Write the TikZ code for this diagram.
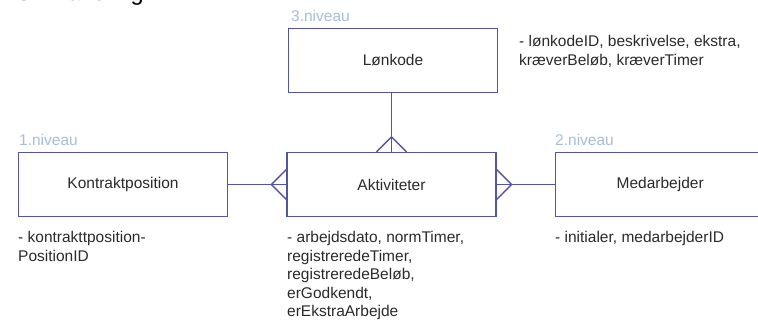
\documentclass[tikz,border=0pt]{standalone}
\usepackage{fontspec}
\setmainfont{Liberation Sans}
\usetikzlibrary{positioning,calc}
\definecolor{erBlue}{HTML}{5454A4}
\definecolor{erText}{HTML}{2A2A2A}
\definecolor{erLevel}{HTML}{A9BDD6}

\begin{document}
\begin{tikzpicture}[
    x=1pt, y=-1pt,
    every node/.style={font=\fontsize{15.5}{18.5}\selectfont, text=erText},
    entity/.style={draw=erBlue, line width=1.4pt, fill=white, inner sep=0pt,
                   minimum width=209pt, minimum height=64pt},
    level/.style={anchor=base west, inner sep=0pt, text=erLevel},
    attrs/.style={anchor=north west, inner sep=0pt, align=left},
    rel/.style={draw=erBlue, line width=1.4pt},
  ]
  \useasboundingbox (0,0) rectangle (758,321);
  \clip (0,0) rectangle (758,321);

  % Heading text cut off at the top
  \node[anchor=base west, inner sep=0pt, text=black,
        font=\fontsize{23.5}{28}\selectfont] (heading) at (18,1) {sin handling.};

  % Entities
  \node[entity] (loenkode) at (393,60.5) {Lønkode};
  \node[entity] (kontrakt) at (123,184.5) {Kontraktposition};
  \node[entity] (aktivitet) at (391.5,184.5) {Aktiviteter};
  \node[entity, anchor=west] (medarb) at (555,184.5) {Medarbejder};

  % Levels
  \node[level] (lvlThree) at (291,21.5) {3.niveau};
  \node[level] (lvlOne) at (19,145.5) {1.niveau};
  \node[level] (lvlTwo) at (555,145.5) {2.niveau};

  % Attributes
  \node[attrs] (attLoen) at (519,35.5) {- lønkodeID, beskrivelse, ekstra,\\kræverBeløb, kræverTimer};
  \node[attrs] (attKontrakt) at (18,231.5) {- kontrakttposition-\\PositionID};
  \node[attrs] (attAktiv) at (287,231.5) {- arbejdsdato, normTimer,\\registreredeTimer,\\registreredeBeløb,\\erGodkendt,\\erEkstraArbejde};
  \node[attrs] (attMedarb) at (555,231.5) {- initialer, medarbejderID};

  % Relations with crow's feet at Aktiviteter
  \draw[rel] (loenkode.south -| aktivitet.north) -- (aktivitet.north);
  \draw[rel] ($(aktivitet.north)+(-15,0)$) -- ($(aktivitet.north)+(0,-15)$)
    -- ($(aktivitet.north)+(15,0)$);

  \draw[rel] (kontrakt.east) -- (aktivitet.west);
  \draw[rel] ($(aktivitet.west)+(0,-15)$) -- ($(aktivitet.west)+(-15,0)$)
    -- ($(aktivitet.west)+(0,15)$);

  \draw[rel] (aktivitet.east) -- (medarb.west);
  \draw[rel] ($(aktivitet.east)+(0,-15)$) -- ($(aktivitet.east)+(15,0)$)
    -- ($(aktivitet.east)+(0,15)$);
\end{tikzpicture}
\end{document}
